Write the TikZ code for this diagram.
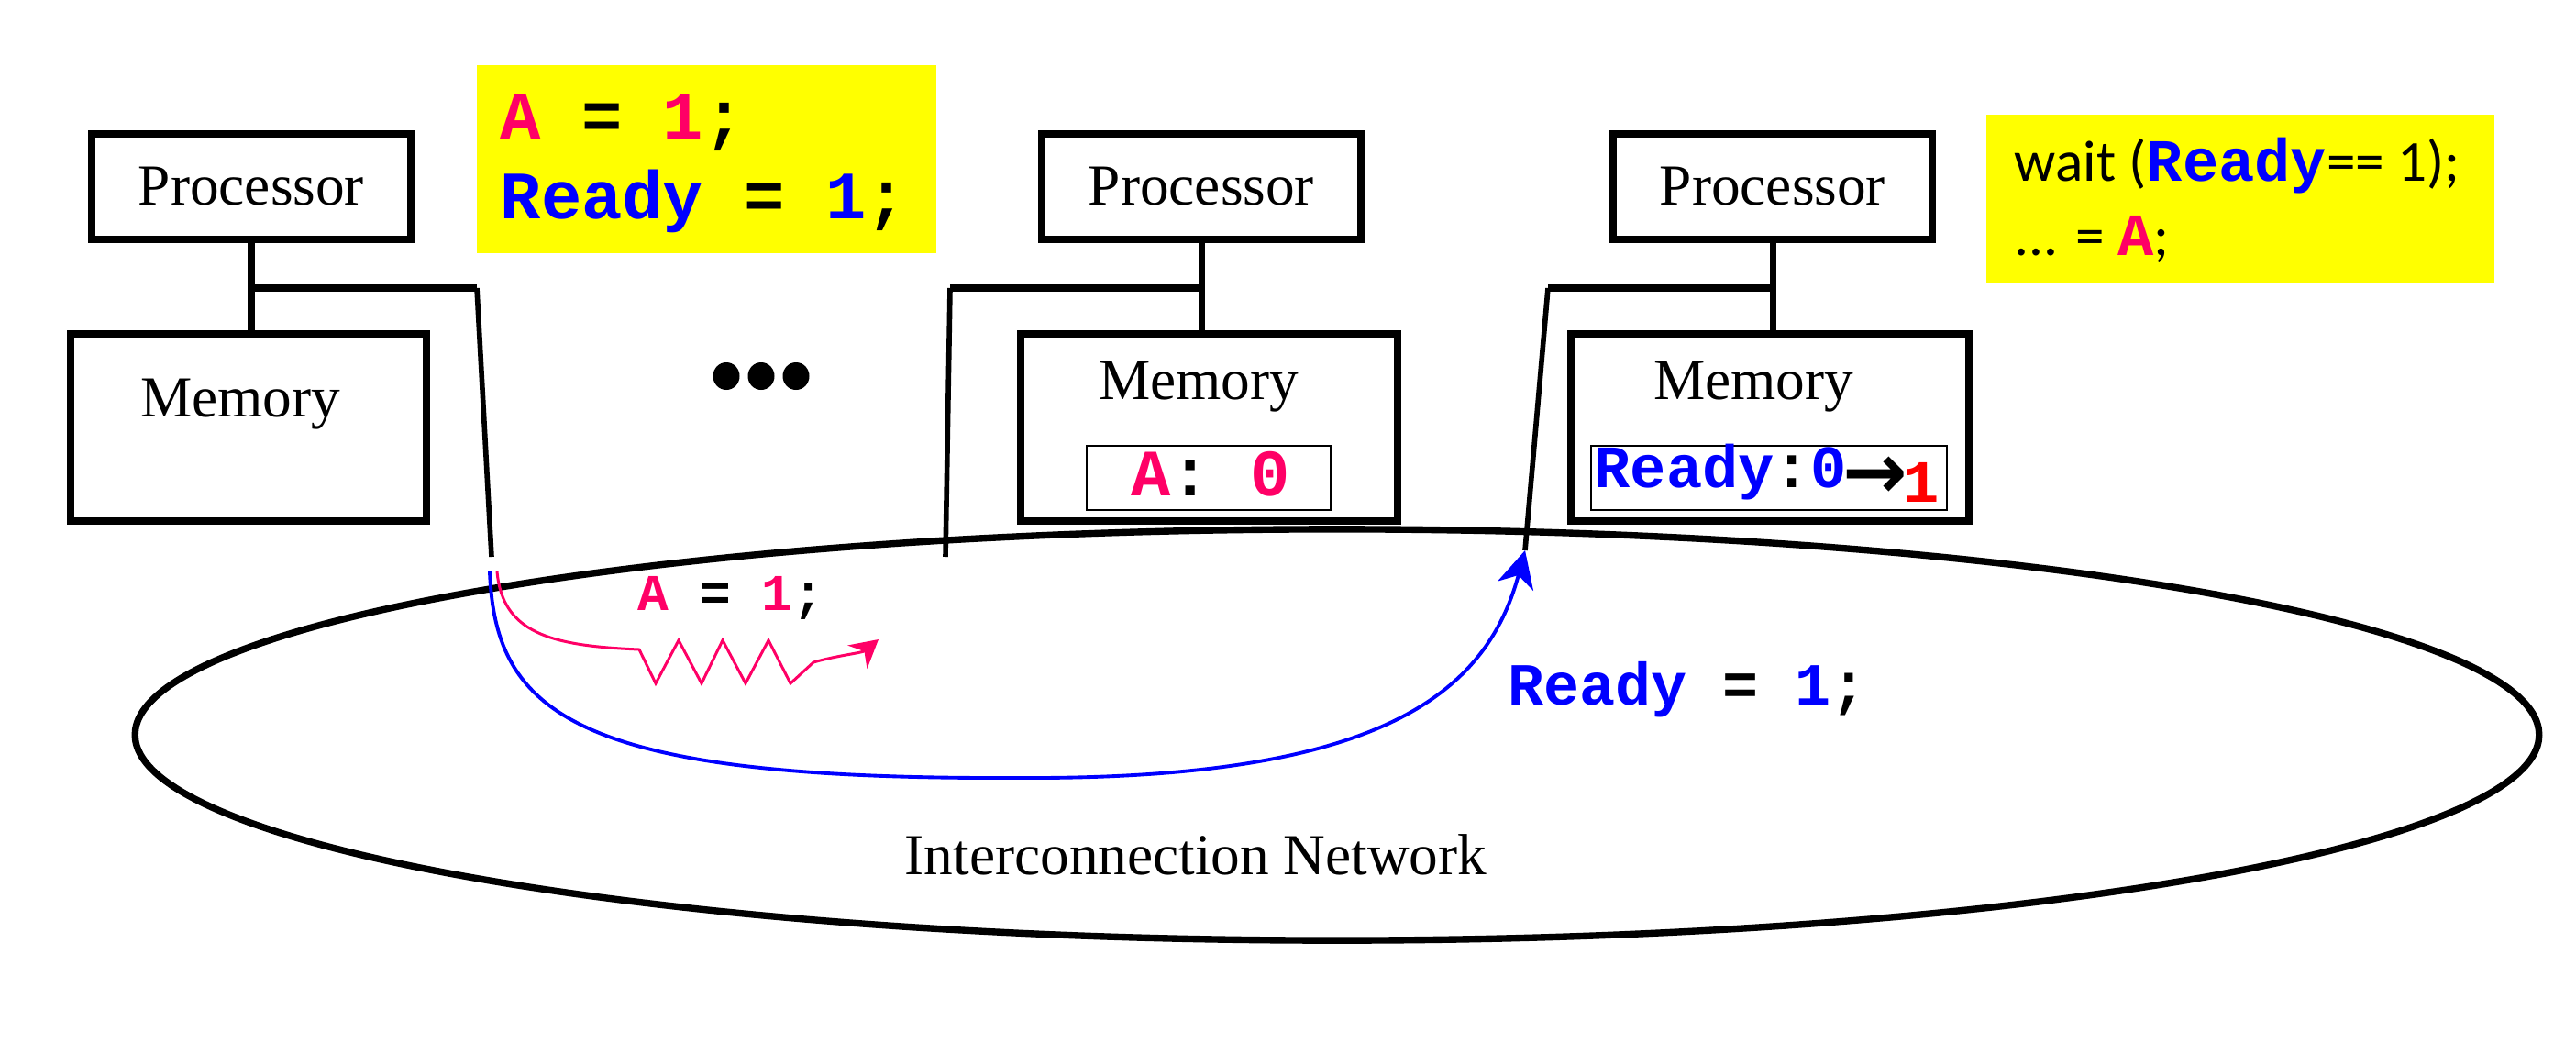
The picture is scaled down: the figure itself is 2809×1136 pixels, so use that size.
\documentclass[tikz,border=0pt]{standalone}
\usepackage{fontspec}
\setmainfont{Liberation Serif}
\newfontfamily\codefont{Liberation Mono}
\newfontfamily\calfont{Carlito}
\newfontfamily\arrowfont{DejaVu Sans}
\usetikzlibrary{calc, positioning}
\usetikzlibrary{arrows.meta}

\definecolor{varpink}{RGB}{255,0,102}
\definecolor{varblue}{RGB}{0,0,255}
\definecolor{varred}{RGB}{255,0,0}
\definecolor{noteyellow}{RGB}{255,255,0}

\newcommand{\vA}{\textcolor{varpink}{A}}
\newcommand{\vReady}{\textcolor{varblue}{Ready}}
\newcommand{\pk}[1]{\textcolor{varpink}{#1}}
\newcommand{\bl}[1]{\textcolor{varblue}{#1}}

\tikzset{
  unitbox/.style={draw, line width=2.4pt, inner sep=0pt},
  procbox/.style={unitbox, minimum width=3.48cm, minimum height=1.15cm,
    font=\fontsize{18}{20}\selectfont},
  membox/.style={unitbox, minimum height=2.04cm},
  regbox/.style={draw, line width=0.7pt, minimum height=0.70cm, inner sep=0pt},
  notebox/.style={fill=noteyellow, inner sep=0pt},
  serif18/.style={font=\fontsize{18}{20}\selectfont, inner sep=0pt, anchor=base},
  code/.style={inner sep=0pt, anchor=base west},
  link/.style={line width=2pt},
  bus/.style={line width=2.2pt},
  drop/.style={line width=1.6pt},
}

\begin{document}
\begin{tikzpicture}[x=0.01cm, y=-0.01cm]
\useasboundingbox (0,0) rectangle (2809,1136);

% Interconnection network
\draw[line width=2.1pt] (1458,801) ellipse [x radius=13.1cm, y radius=2.24cm];
\node[serif18] (netlabel) at (1304,953) {Interconnection Network};

% Processor / memory units
\node[procbox] (proc1) at (274,203.5) {Processor};
\node[procbox] (proc2) at (1310,203.5) {Processor};
\node[procbox] (proc3) at (1933,203.5) {Processor};
\node[membox, minimum width=3.88cm] (mem1) at (271,466) {};
\node[membox, minimum width=4.11cm] (mem2) at (1318.5,466) {};
\node[membox, minimum width=4.34cm] (mem3) at (1930,466) {};
\node[serif18] (memtxt1) at (262,454) {Memory};
\node[serif18] (memtxt2) at (1307,435) {Memory};
\node[serif18] (memtxt3) at (1912,435) {Memory};

\foreach \i in {1,2,3}
  \draw[link] (proc\i.south) -- (proc\i.south |- mem\i.north);

% Bus taps into the network
\coordinate (tap1) at (273,314);
\coordinate (bend1) at (520,314);
\coordinate (drop1) at (536,607);
\coordinate (tap2) at (1310,314);
\coordinate (bend2) at (1036,314);
\coordinate (drop2) at (1031,607);
\coordinate (tap3) at (1933,314);
\coordinate (bend3) at (1688,314);
\coordinate (drop3) at (1663,600);
\foreach \i in {1,2,3} {
  \draw[bus] (tap\i) -- (bend\i);
  \draw[drop] (bend\i) -- (drop\i);
}

% More units in between
\foreach \dx in {792,830,868}
  \fill (\dx,410) ellipse [x radius=0.145cm, y radius=0.15cm];

% Memory contents
\node[regbox, minimum width=2.66cm] (regA) at (1318,521) {};
\node[code, anchor=base, font=\fontsize{20.5}{22}\selectfont\codefont\bfseries]
  (regAtxt) at (1320,540) {\vA: \pk{0}};
\node[regbox, minimum width=3.88cm] (regR) at (1929,521) {};
\node[code, font=\fontsize{18.6}{20}\selectfont\codefont\bfseries]
  (regRtxt) at (1738,531)
  {\vReady:\bl{0}\kern-1pt\raisebox{-3.5pt}{\arrowfont\bfseries\fontsize{24}{24}\selectfont →}\kern-1.5pt\raisebox{-4.8pt}{\textcolor{varred}{1}}};

% Code of the writer and of the reader
\node[notebox, minimum width=5.01cm, minimum height=2.05cm] (note1) at (770.5,173.5) {};
\node[code, font=\fontsize{21}{24}\selectfont\codefont\bfseries] (note1a) at (545,151)
  {\vA{} = \pk{1};};
\node[code, font=\fontsize{21}{24}\selectfont\codefont\bfseries] (note1b) at (545,238)
  {\vReady{} = \bl{1};};
\node[notebox, minimum width=5.54cm, minimum height=1.84cm] (note2) at (2443,217) {};
\node[code, font=\fontsize{18}{20}\selectfont\calfont] (note2a) at (2196,197)
  {wait ({\codefont\bfseries\fontsize{18.6}{20}\selectfont\vReady}== 1);};
\node[code, font=\fontsize{18}{20}\selectfont\calfont] (note2b) at (2196,278)
  {... = {\codefont\bfseries\fontsize{18.6}{20}\selectfont\vA};};

% Messages travelling through the network
\coordinate (srcA) at (542,623);
\coordinate (srcR) at (534,623);
\draw[line width=0.85pt, varpink, -{Stealth[length=3mm, width=3.3mm]}]
  (srcA) .. controls (548,690) and (600,704) .. (697,708)
  -- (715,745) -- (740,698) -- (765,745) -- (788,698) -- (813,745)
  -- (838,698) -- (862,745) -- (887,722)
  .. controls (915,714) and (940,712) .. (958,697);
\node[code, font=\fontsize{16}{18}\selectfont\codefont\bfseries] (msgA) at (695,665)
  {\vA{} = \pk{1};};
\draw[line width=1.1pt, varblue, -{Stealth[length=4mm, width=4mm, inset=1.2mm]}]
  (srcR) .. controls (540,780) and (630,850) .. (1110,848)
  .. controls (1500,850) and (1620,760) .. (drop3);
\node[code, font=\fontsize{18.5}{21}\selectfont\codefont\bfseries] (msgR) at (1644,768)
  {\vReady{} = \bl{1};};
\end{tikzpicture}
\end{document}
